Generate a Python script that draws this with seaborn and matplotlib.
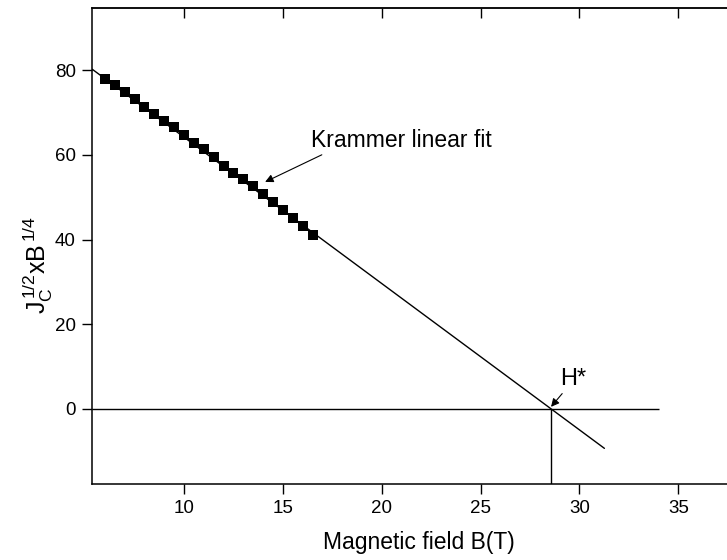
import matplotlib
matplotlib.use("Agg")
import matplotlib.pyplot as plt
import seaborn as sns
import numpy as np

# ---- data ----
field_B = [6.0, 6.5, 7.0, 7.5, 8.0, 8.5, 9.0, 9.5, 10.0, 10.5, 11.0,
           11.5, 12.0, 12.5, 13.0, 13.5, 14.0, 14.5, 15.0, 15.5, 16.0, 16.5]
kramer_y = [77.9, 76.6, 74.8, 73.2, 71.3, 69.7, 68.1, 66.5, 64.6, 62.8, 61.3,
            59.4, 57.3, 55.8, 54.3, 52.6, 50.7, 48.9, 46.9, 45.1, 43.2, 41.1]
fit_x = [5.36, 31.26]
fit_y = [80.2, -9.3]
zero_line_x = [5.36, 34.0]
h_star = 28.56
x_ticks = [10, 15, 20, 25, 30, 35]
y_ticks = [0, 20, 40, 60, 80]
x_limits = (5.36, 37.46)
y_limits = (-17.6, 94.6)

sns.set_theme(style="ticks")
plt.rcParams["font.family"] = ["Liberation Sans", "DejaVu Sans"]
plt.rcParams["mathtext.fontset"] = "custom"
plt.rcParams["mathtext.rm"] = "Liberation Sans"
plt.rcParams["mathtext.it"] = "Liberation Sans"
plt.rcParams["text.color"] = "black"
plt.rcParams["axes.labelcolor"] = "black"
plt.rcParams["xtick.color"] = "black"
plt.rcParams["ytick.color"] = "black"

fig = plt.figure(figsize=(7.27, 5.6), dpi=100)
ax = fig.add_axes([92.3 / 727, 76.5 / 560, (727 - 92.3) / 727, 475.2 / 560])

sns.lineplot(x=fit_x, y=fit_y, ax=ax, color="black", lw=1.0)
ax.hlines(0, zero_line_x[0], zero_line_x[1], color="black", lw=1.0)
ax.vlines(h_star, y_limits[0], 0, color="black", lw=1.0)
sns.scatterplot(x=field_B, y=kramer_y, ax=ax, marker="s", s=55,
                color="black", edgecolor="black", linewidth=0, zorder=5)

ax.set_xlim(*x_limits)
ax.set_ylim(*y_limits)
ax.set_xticks(x_ticks)
ax.set_yticks(y_ticks)
ax.tick_params(axis="both", direction="out", length=7, width=1.0,
               labelsize=13.5, color="black", labelcolor="black", pad=5)
ax.spines["right"].set_visible(False)
for s in ["left", "bottom", "top"]:
    ax.spines[s].set_linewidth(1.1)
    ax.spines[s].set_color("black")

top = ax.secondary_xaxis("top")
top.set_xticks(x_ticks)
top.tick_params(direction="in", length=7, width=1.0, labeltop=False)
top.spines["top"].set_linewidth(1.1)

ax.set_xlabel("Magnetic field B(T)", fontsize=16.5, color="black")
ax.xaxis.set_label_coords(0.514, -0.10)
ax.set_ylabel(r"$\mathregular{J_C^{\,1/2}xB^{\,1/4}}$", fontsize=18, color="black")
ax.yaxis.set_label_coords(-0.058, 0.46)

ax.annotate("Krammer linear fit", xy=(14.1, 53.6), xytext=(16.4, 63.5),
            fontsize=16.5, va="center", ha="left", color="black",
            arrowprops=dict(arrowstyle="-|>", color="black", lw=0.8,
                            mutation_scale=12, shrinkA=0, shrinkB=0,
                            relpos=(0.1, 0.0)))
ax.annotate("H*", xy=(h_star, 0.5), xytext=(29.0, 7.0),
            fontsize=17, va="center", ha="left", color="black",
            arrowprops=dict(arrowstyle="-|>", color="black", lw=0.8,
                            mutation_scale=12, shrinkA=0, shrinkB=0,
                            relpos=(0.2, 0.0)))

fig.savefig("out.png", dpi=100)
